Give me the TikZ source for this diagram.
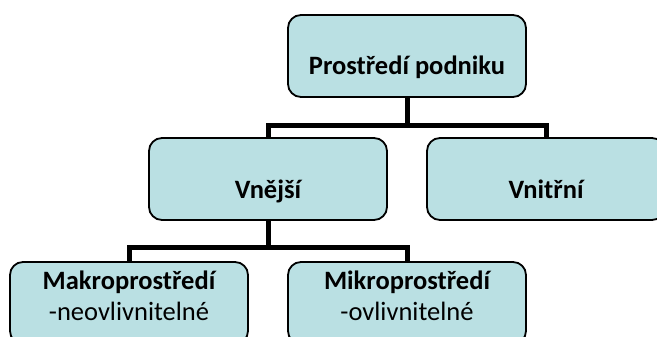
\documentclass[tikz,border=0pt]{standalone}
\usepackage{fontspec}
\setmainfont{Carlito}
\definecolor{boxfill}{RGB}{186,224,227}
\tikzset{
  orgbox/.style={draw=black, line width=1.8pt, fill=boxfill, rounded corners=13pt,
    minimum width=238pt, minimum height=82pt, inner sep=0pt},
  conn/.style={line width=5pt},
  lbl/.style={font=\fontsize{26.5}{31}\selectfont, anchor=base, inner sep=0pt}
}
\begin{document}
\begin{tikzpicture}[x=1pt,y=1pt]
\clip (0,0) rectangle (657,337);
% boxes
\node[orgbox] (podnik)  at (407,281) {};
\node[orgbox] (vnejsi)  at (268,158) {};
\node[orgbox] (vnitrni) at (546,158) {};
\node[orgbox] (makro)   at (129,34) {};
\node[orgbox] (mikro)   at (407,34) {};
% connectors
\draw[conn] (podnik.south) -- ++(0,-28) -| (vnejsi.north);
\draw[conn] (podnik.south) -- ++(0,-28) -| (vnitrni.north);
\draw[conn] (vnejsi.south) -- ++(0,-27) -| (makro.north);
\draw[conn] (vnejsi.south) -- ++(0,-27) -| (mikro.north);
% texts
\node[lbl] (podnikt)  at ([yshift=-19]podnik.center)  {\bfseries Prostředí podniku};
\node[lbl] (vnejsit)  at ([yshift=-20]vnejsi.center)  {\bfseries Vnější};
\node[lbl] (vnitrnit) at ([yshift=-20]vnitrni.center) {\bfseries Vnitřní};
\node[lbl] (makrot)   at ([yshift=13]makro.center)    {\bfseries Makroprostředí};
\node[lbl] (makrou)   at ([yshift=-18]makro.center)   {-neovlivnitelné};
\node[lbl] (mikrot)   at ([yshift=13]mikro.center)    {\bfseries Mikroprostředí};
\node[lbl] (mikrou)   at ([yshift=-18]mikro.center)   {-ovlivnitelné};
\end{tikzpicture}
\end{document}
